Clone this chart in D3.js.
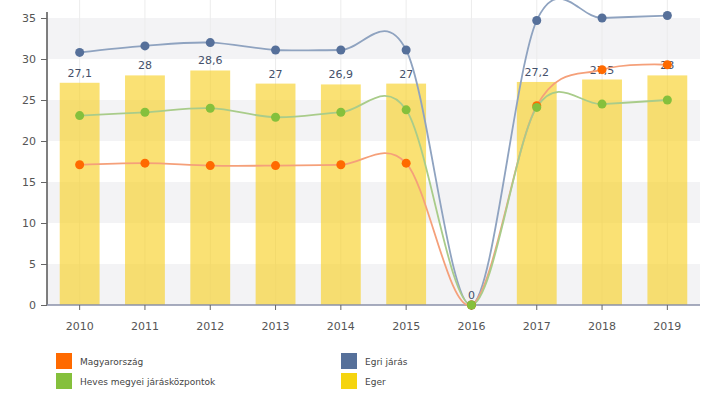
<!DOCTYPE html>
<html>
<head>
<meta charset="utf-8">
<script src="https://cdn.jsdelivr.net/npm/d3@7"></script>
<style>
body { margin: 0; background: #fff; }
text { font-family: "DejaVu Sans", sans-serif; }
</style>
</head>
<body>
<div id="chart"></div>
<script>
var years = ["2010","2011","2012","2013","2014","2015","2016","2017","2018","2019"];
var eger = [27.1, 28, 28.6, 27, 26.9, 27, 0, 27.2, 27.5, 28];
var egriJaras = [30.8, 31.6, 32.0, 31.1, 31.1, 31.1, 0, 34.7, 35.0, 35.3];
var heves = [23.1, 23.5, 24.0, 22.9, 23.5, 23.8, 0, 24.1, 24.5, 25.0];
var magyar = [17.1, 17.3, 17.0, 17.0, 17.1, 17.3, 0, 24.3, 28.7, 29.3];
var yTicks = [0, 5, 10, 15, 20, 25, 30, 35];

var width = 710, height = 405;
var svg = d3.select("#chart").append("svg")
  .attr("width", width)
  .attr("height", height);

var x = d3.scaleBand().domain(years).range([47, 700]).paddingInner(0.39).paddingOuter(0.195);
var xc = function(i) { return x(years[i]) + x.bandwidth() / 2; };
var y = d3.scaleLinear().domain([0, 35]).range([305, 18]);

// alternating stripes
var stripes = [[0,5],[10,15],[20,25],[30,35]];
svg.selectAll("rect.stripe").data(stripes).enter().append("rect")
  .attr("class", "stripe")
  .attr("x", 47).attr("width", 653)
  .attr("y", function(d) { return y(d[1]); })
  .attr("height", function(d) { return y(d[0]) - y(d[1]); })
  .attr("fill", "#f3f3f5");

// faint vertical grid
svg.selectAll("line.vg").data(years).enter().append("line")
  .attr("class", "vg")
  .attr("x1", function(d) { return x(d) + x.bandwidth() / 2; })
  .attr("x2", function(d) { return x(d) + x.bandwidth() / 2; })
  .attr("y1", 0).attr("y2", 305)
  .attr("stroke", "#ececec").attr("stroke-width", 1);

// bars
svg.selectAll("rect.bar").data(eger).enter().append("rect")
  .attr("class", "bar")
  .attr("x", function(d, i) { return x(years[i]); })
  .attr("width", x.bandwidth())
  .attr("y", function(d) { return y(d); })
  .attr("height", function(d) { return y(0) - y(d); })
  .attr("fill", "#f7cf1f").attr("fill-opacity", 0.62);

svg.selectAll("text.blabel").data(eger).enter().append("text")
  .attr("class", "blabel")
  .attr("x", function(d, i) { return xc(i); })
  .attr("y", function(d) { return y(d) - 6; })
  .attr("text-anchor", "middle")
  .attr("font-size", 11)
  .attr("fill", "#44506a")
  .text(function(d) { return String(d).replace(".", ","); });

// axes
var yAxis = d3.axisLeft(y).tickValues(yTicks).tickSize(6).tickPadding(5);
var gy = svg.append("g").attr("transform", "translate(47,0)").call(yAxis);
gy.select(".domain").attr("d", "M0,12V305").attr("stroke", "#555").attr("stroke-width", 1.5);
gy.selectAll(".tick line").attr("stroke", "#666");
gy.selectAll(".tick text").attr("font-size", 11).attr("fill", "#555").attr("font-family", "DejaVu Sans, sans-serif");

var xAxis = d3.axisBottom(x).tickSize(5).tickPadding(12);
var gx = svg.append("g").attr("transform", "translate(0,305)").call(xAxis);
gx.select(".domain").attr("d", "M47,0H700").attr("stroke", "#8a90a8").attr("stroke-width", 1.5);
gx.selectAll(".tick line").attr("stroke", "#666");
gx.selectAll(".tick text").attr("font-size", 11).attr("fill", "#555").attr("font-family", "DejaVu Sans, sans-serif");

// lines (drawn blue, orange, then green on top)
var series = [
  { name: "Egri járás", values: egriJaras, color: "#56709a", line: "#8fa3c0" },
  { name: "Magyarország", values: magyar, color: "#ff6a00", line: "#f5a07a" },
  { name: "Heves megyei járásközpontok", values: heves, color: "#85c03c", line: "#a9cc8a" }
];
var line = d3.line()
  .x(function(d, i) { return xc(i); })
  .y(function(d) { return y(d); })
  .curve(d3.curveCardinal.tension(0));

series.forEach(function(s) {
  svg.append("path")
    .datum(s.values)
    .attr("d", line)
    .attr("fill", "none")
    .attr("stroke", s.line)
    .attr("stroke-width", 1.8);
});
series.forEach(function(s) {
  svg.selectAll(null).data(s.values).enter().append("circle")
    .attr("cx", function(d, i) { return xc(i); })
    .attr("cy", function(d) { return y(d); })
    .attr("r", 4.5)
    .attr("fill", s.color);
});

// legend
var legend = [
  { name: "Magyarország", color: "#ff6a00", x: 56, y: 353 },
  { name: "Heves megyei járásközpontok", color: "#85c03c", x: 56, y: 373 },
  { name: "Egri járás", color: "#56709a", x: 341, y: 353 },
  { name: "Eger", color: "#f5d40f", x: 341, y: 373 }
];
var lg = svg.selectAll("g.leg").data(legend).enter().append("g")
  .attr("transform", function(d) { return "translate(" + d.x + "," + d.y + ")"; });
lg.append("rect").attr("width", 16).attr("height", 16).attr("fill", function(d) { return d.color; });
lg.append("text").attr("x", 24).attr("y", 12).attr("font-size", 9).attr("fill", "#444")
  .text(function(d) { return d.name; });
</script>
</body>
</html>
